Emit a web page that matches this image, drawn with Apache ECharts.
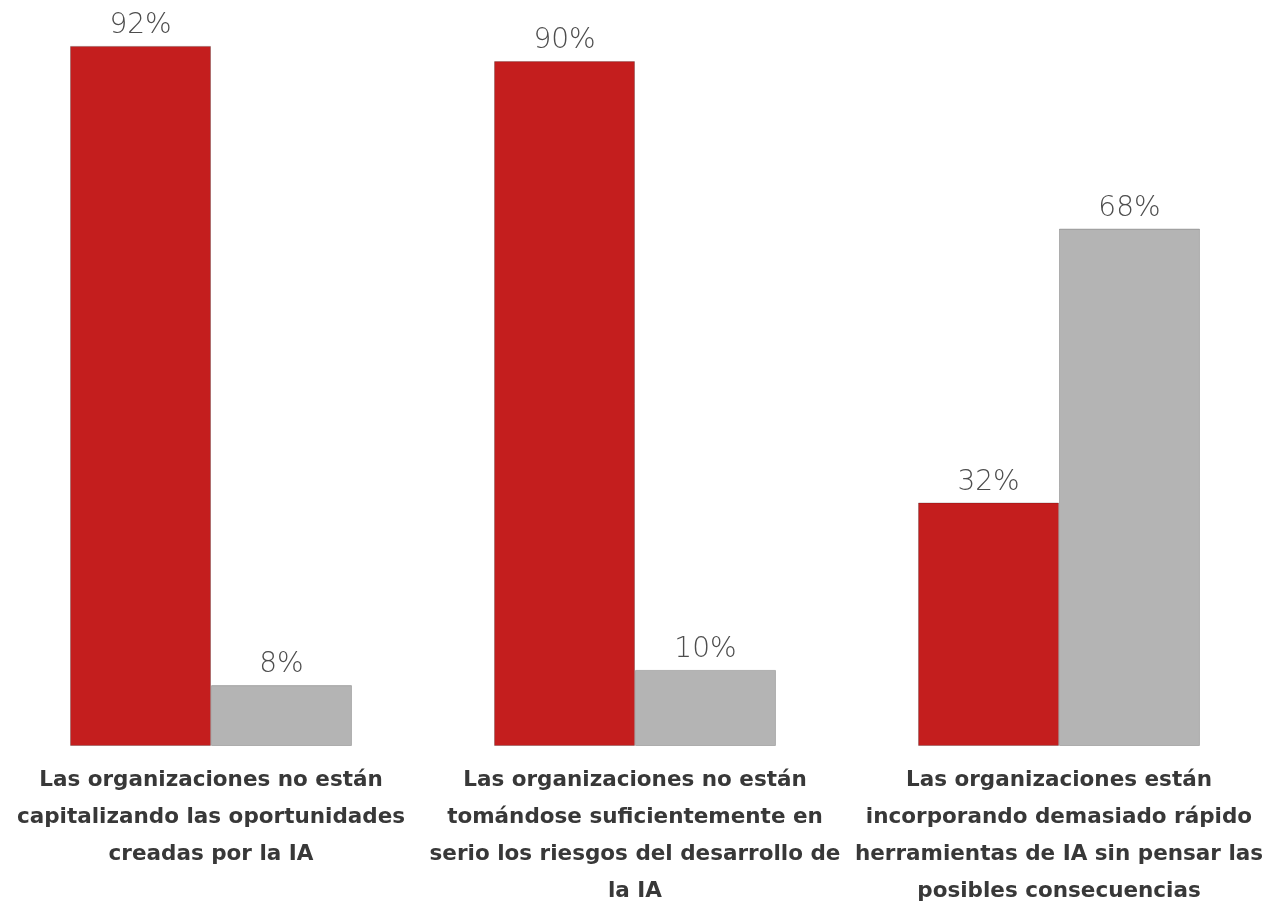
<!DOCTYPE html>
<html>
<head>
<meta charset="utf-8">
<script src="https://cdn.jsdelivr.net/npm/echarts@6/dist/echarts.min.js"></script>
<style>
  html, body { margin: 0; padding: 0; background: #ffffff; }
  #chart { width: 1268px; height: 902px; }
</style>
</head>
<body>
<div id="chart"></div>
<script>
// Statements (line breaks kept as they wrap under each bar pair)
const categories = [
  'Las organizaciones no están\ncapitalizando las oportunidades\ncreadas por la IA',
  'Las organizaciones no están\ntomándose suficientemente en\nserio los riesgos del desarrollo de\nla IA',
  'Las organizaciones están\nincorporando demasiado rápido\nherramientas de IA sin pensar las\nposibles consecuencias'
];

// Share of respondents (%)
const acuerdo = [92, 90, 32];
const desacuerdo = [8, 10, 68];

const chart = echarts.init(document.getElementById('chart'));

const valueLabel = {
  show: true,
  position: 'top',
  distance: 6,
  formatter: '{c}%',
  fontFamily: 'DejaVu Sans',
  fontWeight: 200,
  fontSize: 28,
  color: '#4d4d4d'
};

chart.setOption({
  animation: false,
  backgroundColor: '#ffffff',
  grid: {
    left: -1, right: -3, top: -15, bottom: 156,
    containLabel: false,
    outerBoundsMode: 'none'
  },
  xAxis: {
    type: 'category',
    data: categories,
    axisLine: { show: false },
    axisTick: { show: false },
    axisLabel: {
      interval: 0,
      margin: 16,
      fontFamily: 'DejaVu Sans',
      fontWeight: 'bold',
      fontSize: 21.5,
      lineHeight: 37,
      color: '#383838',
      align: 'center'
    }
  },
  yAxis: {
    type: 'value',
    min: 0,
    max: 100,
    show: false,
    splitLine: { show: false }
  },
  series: [
    {
      name: 'De acuerdo',
      type: 'bar',
      data: acuerdo,
      barGap: '0%',
      barCategoryGap: '33.5%',
      itemStyle: { color: '#c41e1e', borderColor: 'rgba(0,0,0,0.22)', borderWidth: 1 },
      label: valueLabel
    },
    {
      name: 'En desacuerdo',
      type: 'bar',
      data: desacuerdo,
      itemStyle: { color: '#b4b4b4', borderColor: 'rgba(0,0,0,0.2)', borderWidth: 1 },
      label: valueLabel
    }
  ]
});
</script>
</body>
</html>
